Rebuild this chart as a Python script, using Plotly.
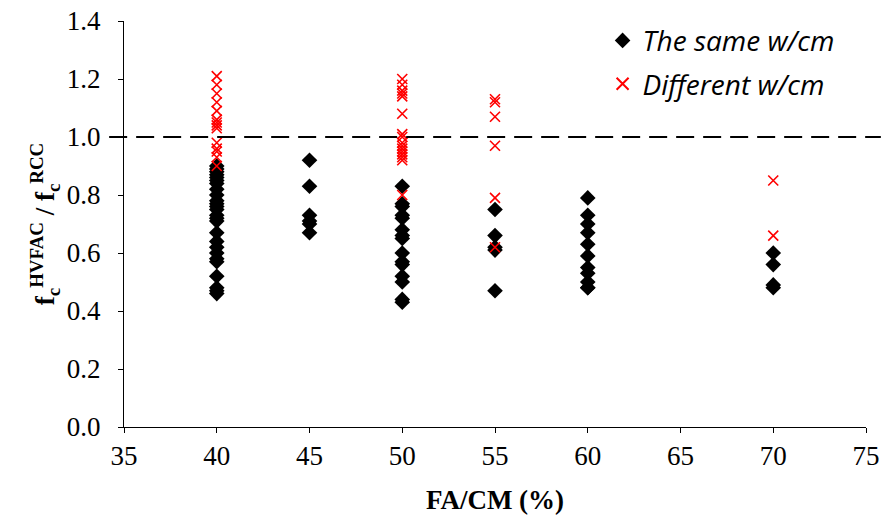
import plotly.graph_objects as go

# Data: FA/CM (%) and strength ratio
same_x = [40]*26 + [45]*6 + [50]*15 + [55]*5 + [60]*11 + [70]*4
same_y = [0.90, 0.89, 0.88, 0.87, 0.86, 0.85, 0.84, 0.82, 0.80, 0.78, 0.77, 0.76, 0.75,
          0.73, 0.72, 0.71, 0.67, 0.64, 0.62, 0.60, 0.58, 0.57, 0.52, 0.48, 0.47, 0.46,
          0.92, 0.83, 0.73, 0.71, 0.70, 0.67,
          0.83, 0.77, 0.76, 0.73, 0.72, 0.68, 0.66, 0.65, 0.60, 0.57, 0.56, 0.52, 0.50, 0.44, 0.43,
          0.75, 0.66, 0.62, 0.61, 0.47,
          0.79, 0.73, 0.70, 0.67, 0.63, 0.59, 0.55, 0.53, 0.50, 0.48, 0.48,
          0.60, 0.56, 0.49, 0.48]

diff_x = [40]*14 + [50]*16 + [55]*6 + [70]*2
diff_y = [1.21, 1.18, 1.15, 1.12, 1.09, 1.06, 1.05, 1.04, 1.03, 0.98, 0.96, 0.95, 0.93, 0.90,
          1.20, 1.18, 1.16, 1.15, 1.14, 1.08, 1.01, 1.00, 0.98, 0.97, 0.96, 0.95, 0.94, 0.93, 0.92, 0.80,
          1.13, 1.12, 1.07, 0.97, 0.79, 0.62,
          0.85, 0.66]

x_ticks = [35, 40, 45, 50, 55, 60, 65, 70, 75]
y_ticks = [0.0, 0.2, 0.4, 0.6, 0.8, 1.0, 1.2, 1.4]
ref_line = 1.0

fig = go.Figure()
fig.add_trace(go.Scatter(
    x=same_x, y=same_y, mode="markers", name="The same w/cm", legendgroup="same",
    marker=dict(symbol="diamond", size=12, color="black", line=dict(width=0)),
))
fig.add_trace(go.Scatter(
    x=diff_x, y=diff_y, mode="markers", name="Different w/cm", legendgroup="diff",
    marker=dict(symbol="x-thin", size=10, color="red", line=dict(width=1.6, color="red")),
))

fig.add_shape(type="line", xref="paper", yref="y", x0=-0.02, x1=1.02, y0=ref_line, y1=ref_line,
              line=dict(color="black", width=1.8, dash="18px,9px"))

serif = "Liberation Serif, DejaVu Serif, serif"
fig.update_layout(
    width=893, height=520,
    margin=dict(l=124, r=27, t=21, b=93, autoexpand=False),
    plot_bgcolor="white", paper_bgcolor="white",
    showlegend=True,
    legend=dict(x=0.645, y=1.013, xanchor="left", yanchor="top",
                font=dict(family="Open Sans, sans-serif", size=28, color="black", style="italic"),
                bgcolor="rgba(0,0,0,0)", itemsizing="constant", tracegroupgap=4, itemwidth=30),
    xaxis=dict(range=[35, 75], tickvals=x_ticks, ticktext=[str(v) for v in x_ticks],
               showgrid=False, zeroline=False, showline=True, linecolor="black", linewidth=1,
               ticks="outside", ticklen=5, tickcolor="black", ticklabelstandoff=0,
               tickfont=dict(family=serif, size=27, color="black"),
               title=dict(text="<b>FA/CM (%)</b>", font=dict(family=serif, size=27, color="black"), standoff=19)),
    yaxis=dict(range=[0, 1.4], tickvals=y_ticks, ticktext=[f"{v:.1f}" for v in y_ticks],
               showgrid=False, zeroline=False, showline=True, linecolor="black", linewidth=1,
               ticks="outside", ticklen=5, tickcolor="black", ticklabelstandoff=12,
               tickfont=dict(family=serif, size=27, color="black"),
               title=dict(text="<b>f<sub>c</sub><sup>HVFAC</sup> / f<sub>c</sub><sup>RCC</sup></b>",
                          font=dict(family=serif, size=27, color="black"), standoff=4)),
)

fig.write_html("out.html")
